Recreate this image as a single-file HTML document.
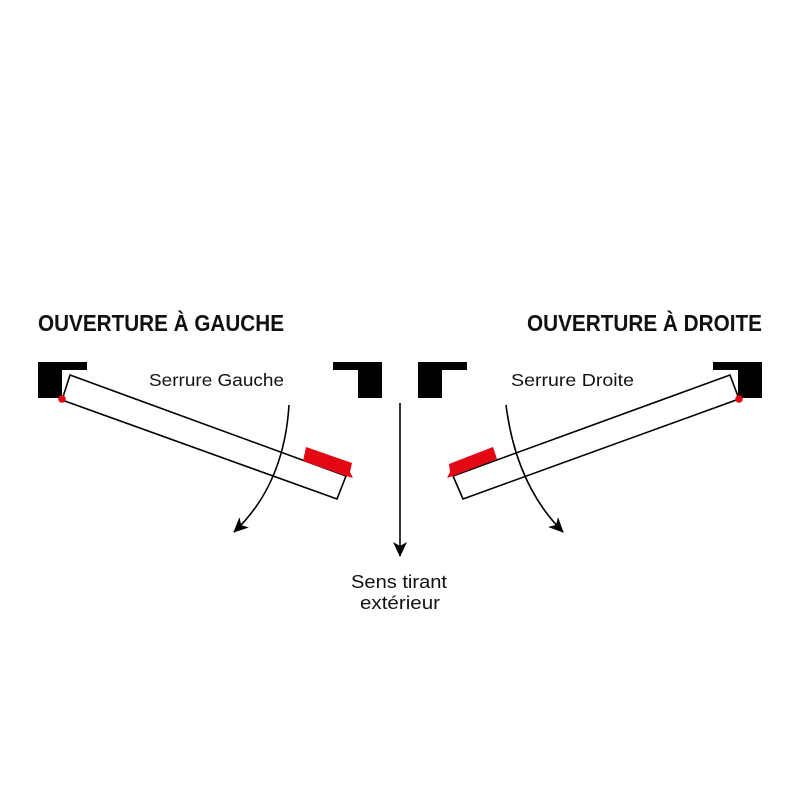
<!DOCTYPE html>
<html><head><meta charset="utf-8"><style>
html,body{margin:0;padding:0;background:#fff;}
svg{display:block;}
text{font-family:"Liberation Sans",sans-serif;fill:#111;}
</style></head><body>
<svg width="800" height="800" viewBox="0 0 800 800" xmlns="http://www.w3.org/2000/svg">
<defs>
<marker id="ah" markerWidth="16" markerHeight="16" refX="14" refY="7" orient="auto" markerUnits="userSpaceOnUse">
<path d="M0,0 L15,7 L0,14 L4,7 Z" fill="#000"/>
</marker>
</defs>
<text x="38" y="331" font-size="23" font-weight="bold" textLength="246" lengthAdjust="spacingAndGlyphs">OUVERTURE À GAUCHE</text>
<text x="527" y="331" font-size="23" font-weight="bold" textLength="235" lengthAdjust="spacingAndGlyphs">OUVERTURE À DROITE</text>
<text x="149" y="386" font-size="17.5" textLength="135" lengthAdjust="spacingAndGlyphs">Serrure Gauche</text>
<text x="511" y="386" font-size="17.5" textLength="123" lengthAdjust="spacingAndGlyphs">Serrure Droite</text>
<text x="351" y="588" font-size="18.5" textLength="96" lengthAdjust="spacingAndGlyphs">Sens tirant</text>
<text x="360" y="609" font-size="18.5" textLength="80" lengthAdjust="spacingAndGlyphs">extérieur</text>

<path d="M38,362 H87 V370 H62 V398 H38 Z" fill="#000"/>
<path d="M333,362 H382 V398 H358 V370 H333 Z" fill="#000"/>
<path d="M418,362 H467 V370 H442 V398 H418 Z" fill="#000"/>
<path d="M713,362 H762 V398 H738 V370 H713 Z" fill="#000"/>

<polygon points="70,375 346,476 337,499 62,400" fill="#fff" stroke="#000" stroke-width="1.6"/>
<polygon points="306,447 352,463 350,472 353,478 346,476 303,461" fill="#e30613"/>
<circle cx="62" cy="399" r="3.8" fill="#e30613"/>
<path d="M289,405 Q284,485 234,532" fill="none" stroke="#000" stroke-width="1.6" marker-end="url(#ah)"/>

<polygon points="730,375 739,399 463,499 453,476" fill="#fff" stroke="#000" stroke-width="1.6"/>
<polygon points="449,464 493,447 497,459 453,476 447,478 450,472" fill="#e30613"/>
<circle cx="739" cy="399" r="3.8" fill="#e30613"/>
<path d="M506,405 Q516,485 563,532" fill="none" stroke="#000" stroke-width="1.6" marker-end="url(#ah)"/>

<line x1="400" y1="403" x2="400" y2="556" stroke="#000" stroke-width="1.6" marker-end="url(#ah)"/>
</svg>
</body></html>
